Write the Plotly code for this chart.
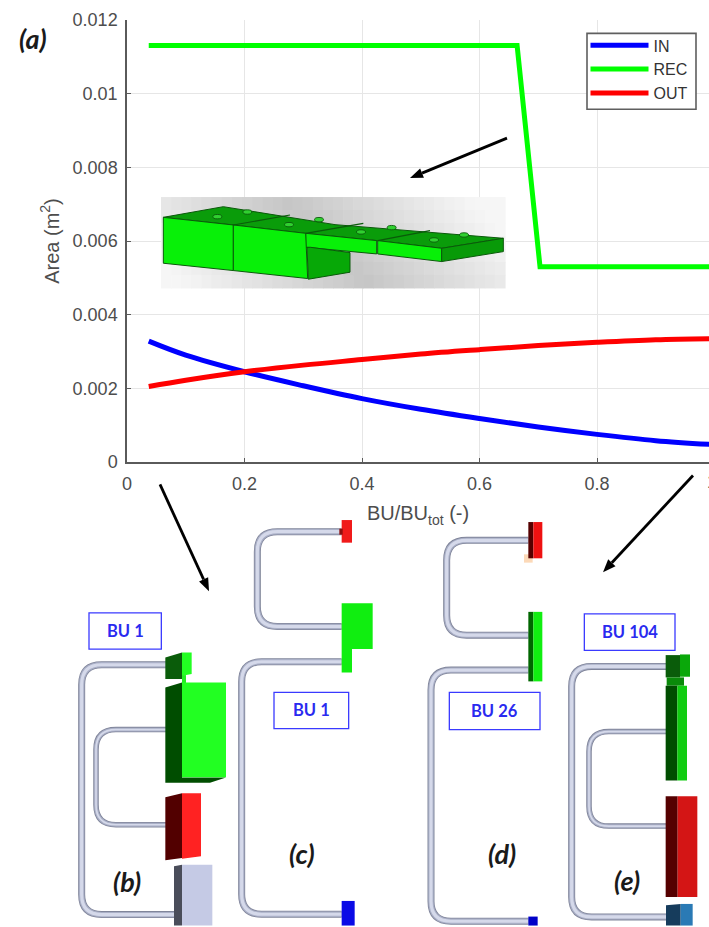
import math
import plotly.graph_objects as go

# ---- chart data ----
x_in = [0.037, 0.1, 0.2, 0.3, 0.4, 0.5, 0.6, 0.7, 0.8, 0.9, 1.0]
y_in = [0.00328, 0.0029, 0.00245, 0.00207, 0.00172, 0.00143, 0.00118, 0.00095, 0.00075, 0.00058, 0.00047]
x_rec = [0.037, 0.664, 0.703, 1.0]
y_rec = [0.01131, 0.01131, 0.0053, 0.0053]
x_out = [0.037, 0.1, 0.2, 0.3, 0.4, 0.5, 0.6, 0.7, 0.8, 0.9, 1.0]
y_out = [0.00205, 0.00222, 0.00245, 0.00263, 0.00278, 0.00293, 0.00305, 0.00316, 0.00325, 0.00332, 0.00335]
series_names = ["IN", "REC", "OUT"]
x_ticks = [0, 0.2, 0.4, 0.6, 0.8]
x_tick_labels = ["0", "0.2", "0.4", "0.6", "0.8"]
y_ticks = [0, 0.002, 0.004, 0.006, 0.008, 0.01, 0.012]
y_tick_labels = ["0", "0.002", "0.004", "0.006", "0.008", "0.01", "0.012"]

W, H = 709, 927
L, R, T, B = 127, 709, 19.6, 462.5
X_MAX = (R - L) / 587.5
SANS = "Liberation Sans"
GRAY = "#4d4d4d"
LABEL_FONT = "Lato"


def px(x):
    return (x - L) / (R - L)


def py(y):
    return (B - y) / (B - T)


shapes = []
annots = []


def poly(pts, fill, line=None, lw=1):
    d = "M" + " L".join(f"{px(x):.5f},{py(y):.5f}" for x, y in pts) + " Z"
    shapes.append(dict(type="path", xref="paper", yref="paper", path=d, fillcolor=fill,
                       line=dict(color=line or fill, width=lw if line else 0)))


def seg(pts, color, lw):
    d = "M" + " L".join(f"{px(x):.5f},{py(y):.5f}" for x, y in pts)
    shapes.append(dict(type="path", xref="paper", yref="paper", path=d,
                       line=dict(color=color, width=lw)))


def crop(ox, oy, pts):
    return [(ox + a / 3, oy + b / 3) for a, b in pts]


C3 = (60, 510)
C4 = (380, 510)
C5 = (155, 190)
C6 = (330, 190)


def block(c, pts, fill, line=None, lw=1):
    poly(crop(c[0], c[1], pts), fill, line, lw)


def pipe(c, nodes, width=7):
    (x0, y0), (xc, y1), (xc2, y2), (x3, y3) = nodes
    r = 60
    P = crop(c[0], c[1], [(x0, y0), (xc + r, y1), (xc, y1), (xc, y1 + r),
                          (xc, y2 - r), (xc, y2), (xc + r, y2), (x3, y3)])
    f = lambda p: f"{px(p[0]):.5f},{py(p[1]):.5f}"
    d = (f"M{f(P[0])} L{f(P[1])} Q{f(P[2])} {f(P[3])} L{f(P[4])} Q{f(P[5])} {f(P[6])} L{f(P[7])}")
    for col, w in (("#80859a", width), ("#a9afc6", width - 1.6), ("#d5d9ea", width - 3.8)):
        shapes.append(dict(type="path", xref="paper", yref="paper", path=d, line=dict(color=col, width=w)))


def arrow(x0, y0, x1, y1):
    a = math.atan2(y1 - y0, x1 - x0)
    ln, hw = 13, 5
    bx, by = x1 - ln * math.cos(a), y1 - ln * math.sin(a)
    seg([(x0, y0), (bx, by)], "#000000", 2.8)
    poly([(x1, y1), (bx - hw * math.sin(a), by + hw * math.cos(a)),
          (bx + hw * math.sin(a), by - hw * math.cos(a))], "#000000")


def bubox(c, x0, y0, x1, y1, label):
    poly(crop(c[0], c[1], [(x0, y0), (x1, y0), (x1, y1), (x0, y1)]), "#ffffff", "#3a3aff", 1.3)
    cx, cy = c[0] + (x0 + x1) / 6, c[1] + (y0 + y1) / 6
    annots.append(dict(x=px(cx), y=py(cy), xref="paper", yref="paper", text=f"<b>{label}</b>",
                       xanchor="center", yanchor="middle", showarrow=False,
                       font=dict(family=LABEL_FONT, size=16.5, color="#2a2af0")))


def tag(x, y, label):
    annots.append(dict(x=px(x), y=py(y), xref="paper", yref="paper", text=f"<b><i>{label}</i></b>",
                       xanchor="center", yanchor="middle", showarrow=False,
                       font=dict(family=LABEL_FONT, size=27, color="#1a1a1a")))


# ---- legend frame (the entries are the native legend, drawn on top) ----
poly([(587, 33), (696, 33), (696, 109), (587, 109)], "#ffffff", "#5f5f5f", 1.6)

# ---- inset: background shading ----
NX, NY = 34, 7
for i in range(NX):
    for j in range(NY):
        x0 = 161 + 344 * i / NX
        x1 = 161 + 344 * (i + 1) / NX + 0.6
        y0 = 197 + 91 * j / NY
        y1 = 197 + 91 * (j + 1) / NY + 0.6
        c = 290 + 75 * j / (NY - 1)
        d = abs((x0 + x1) / 2 - c) / 190
        v = int(min(246, 198 + 50 * d))
        poly([(x0, y0), (x1, y0), (x1, y1), (x0, y1)], f"rgb({v},{v},{v})")

# ---- inset: green part ----
EDGE = "#0a5a0a"
poly(crop(*C5, [(25, 82), (205, 50), (540, 104)]) + crop(*C6, [(520, 145), (335, 175), (143, 152)]) +
     crop(*C5, [(450, 130), (235, 105)]), "#0a9c0a", EDGE, 1)
block(C5, [(25, 82), (235, 105), (235, 242), (25, 220)], "#08f008", EDGE, 1)
poly(crop(*C5, [(452, 130)]) + crop(*C6, [(140, 152), (140, 192)]) + crop(*C5, [(452, 172)]), "#08f008", EDGE, 1)
block(C5, [(235, 105), (452, 130), (458, 266), (235, 242)], "#08f008", EDGE, 1)
block(C6, [(143, 152), (335, 175), (335, 215), (143, 192)], "#08f008", EDGE, 1)
block(C6, [(335, 175), (520, 145), (520, 185), (335, 215)], "#089a08", EDGE, 1)
poly(crop(*C5, [(466, 172)]) + crop(*C6, [(60, 188), (60, 247)]) + crop(*C5, [(460, 268), (456, 172)]), "#07a807", EDGE, 1)
seg(crop(*C5, [(235, 105), (405, 75)]), EDGE, 1.2)
seg(crop(*C5, [(452, 130)]) + crop(*C6, [(100, 100)]), EDGE, 1.2)
seg(crop(*C6, [(143, 152), (300, 122)]), EDGE, 1.2)
holes = crop(*C5, [(187, 80), (277, 66), (402, 104), (492, 89)]) + crop(*C6, [(93, 126), (185, 113), (312, 150), (402, 135)])
for hx, hy in holes:
    shapes.append(dict(type="circle", xref="paper", yref="paper", x0=px(hx - 4.5), x1=px(hx + 4.5),
                       y0=py(hy + 2.2), y1=py(hy - 2.2), fillcolor="#30d030", line=dict(color=EDGE, width=0.9)))

# ---- panel (b) ----
pipe(C3, [(352, 467), (65, 467), (65, 1218), (352, 1218)])
pipe(C3, [(352, 662), (108, 662), (108, 948), (352, 948)], 5.5)
block(C3, [(316, 445), (366, 430), (366, 510), (316, 510)], "#0a5c0a")
block(C3, [(366, 430), (395, 430), (395, 495), (366, 500)], "#22ff22")
block(C3, [(366, 498), (378, 498), (378, 522), (366, 522)], "#22ee22")
block(C3, [(316, 535), (366, 520), (366, 806), (498, 806), (450, 822), (316, 822)], "#004d00")
block(C3, [(366, 520), (498, 520), (498, 805), (366, 805)], "#22ff22")
block(C3, [(316, 865), (366, 853), (366, 1048), (316, 1055)], "#520000")
block(C3, [(366, 853), (423, 853), (423, 1043), (366, 1050)], "#ff2222")
block(C3, [(342, 1073), (366, 1068), (366, 1251), (342, 1251)], "#4a4d5a")
block(C3, [(366, 1068), (457, 1068), (457, 1251), (366, 1251)], "#c5cae5")
bubox(C3, 87, 311, 304, 420, "BU 1")
tag(60 + 200 / 3, 510 + 1118 / 3, "(b)")

# ---- panel (c) ----
pipe(C3, [(845, 67), (592, 67), (592, 352), (845, 352)])
pipe(C3, [(845, 458), (545, 458), (545, 1217), (845, 1217)])
block(C3, [(845, 32), (876, 32), (876, 100), (845, 100)], "#f01a1a")
block(C3, [(838, 58), (848, 58), (848, 76), (838, 76)], "#8c1010")
block(C3, [(845, 282), (938, 282), (938, 420), (876, 420), (876, 490), (845, 490)], "#10ee10")
block(C3, [(845, 1177), (884, 1177), (884, 1251), (845, 1251)], "#0a0ae6")
bubox(C3, 642, 550, 866, 659, "BU 1")
tag(60 + 727 / 3, 510 + 1033 / 3, "(c)")

# ---- panel (d) ----
pipe(C4, [(445, 93), (200, 93), (200, 378), (445, 378)])
pipe(C4, [(445, 483), (153, 483), (153, 1238), (445, 1238)])
block(C4, [(432, 135), (458, 135), (458, 160), (432, 160)], "#fcd9b8")
block(C4, [(445, 38), (460, 38), (460, 147), (445, 147)], "#550000")
block(C4, [(460, 38), (487, 38), (487, 147), (460, 147)], "#ee1111")
block(C4, [(445, 308), (460, 308), (460, 517), (445, 517)], "#006600")
block(C4, [(460, 308), (487, 308), (487, 517), (460, 517)], "#11ee11")
block(C4, [(445, 1224), (473, 1224), (473, 1251), (445, 1251)], "#0000c8")
bubox(C4, 208, 550, 480, 662, "BU 26")
tag(380 + 367 / 3, 510 + 1035 / 3, "(d)")

# ---- panel (e) ----
pipe(C4, [(860, 472), (575, 472), (575, 1225), (860, 1225)])
pipe(C4, [(862, 668), (627, 668), (627, 952), (862, 952)], 5.5)
block(C4, [(857, 438), (900, 438), (900, 505), (857, 505)], "#0a5c0a")
block(C4, [(900, 436), (930, 436), (930, 503), (900, 503)], "#0aa80a")
block(C4, [(860, 505), (912, 505), (912, 530), (860, 530)], "#0a8a0a")
block(C4, [(857, 530), (892, 530), (892, 815), (857, 815)], "#004d00")
block(C4, [(892, 530), (921, 530), (921, 815), (892, 815)], "#11cc11")
block(C4, [(857, 862), (893, 862), (893, 1165), (857, 1165)], "#550000")
block(C4, [(893, 862), (952, 862), (952, 1165), (893, 1165)], "#d41515")
block(C4, [(858, 1190), (902, 1186), (902, 1251), (858, 1251)], "#163c5c")
block(C4, [(902, 1186), (938, 1186), (938, 1251), (902, 1251)], "#2a7ab5")
bubox(C4, 613, 314, 885, 424, "BU 104")
tag(380 + 742 / 3, 510 + 1117 / 3, "(e)")

# ---- arrows and panel tag ----
arrow(507, 138, 410, 178)
arrow(160, 485, 209, 592)
arrow(693, 476, 603, 573)
tag(33, 38, "(a)")

# clipped "1" tick label at the picture edge
annots.append(dict(x=px(705), y=py(483), xref="paper", yref="paper", text="1", showarrow=False,
                   xanchor="left", yanchor="middle", font=dict(family=SANS, size=18, color=GRAY)))

fig = go.Figure()
for name, xs, ys, col, sh in ((series_names[0], x_in, y_in, "#0000ff", "spline"),
                              (series_names[1], x_rec, y_rec, "#00ff00", "linear"),
                              (series_names[2], x_out, y_out, "#ff0000", "spline")):
    fig.add_trace(go.Scatter(x=xs, y=ys, name=name, mode="lines", line=dict(color=col, width=5, shape=sh)))

axis_common = dict(showline=True, linecolor="#5a5a5a", linewidth=1.5, gridcolor="#e6e6e6", gridwidth=1.2,
                   ticks="inside", ticklen=4, tickcolor="#5a5a5a", zeroline=False,
                   tickfont=dict(family=SANS, size=18, color=GRAY), mirror=False)
fig.update_xaxes(range=[0, X_MAX], tickvals=x_ticks, ticktext=x_tick_labels, ticklabelstandoff=5,
                 title=dict(text="BU/BU<sub>tot</sub> (-)", standoff=13, font=dict(family=SANS, size=20, color=GRAY)),
                 **axis_common)
fig.update_yaxes(range=[0, 0.012], tickvals=y_ticks, ticktext=y_tick_labels, ticklabelstandoff=4,
                 title=dict(text="Area (m<sup>2</sup>)", standoff=8, font=dict(family=SANS, size=20, color=GRAY)),
                 **axis_common)
fig.update_layout(
    width=W, height=H, autosize=False, paper_bgcolor="#ffffff", plot_bgcolor="#ffffff",
    margin=dict(l=L, r=W - R, t=T, b=H - B, autoexpand=False),
    legend=dict(x=px(585.5), y=py(28), xanchor="left", yanchor="top", bgcolor="rgba(0,0,0,0)",
                borderwidth=0, itemwidth=58, itemsizing="constant",
                font=dict(family=SANS, size=16, color="#333333")),
    shapes=shapes, annotations=annots,
)
fig.write_html("out.html", config=dict(displayModeBar=False),
               post_script="document.body.style.margin='0';document.body.style.overflow='hidden';")
